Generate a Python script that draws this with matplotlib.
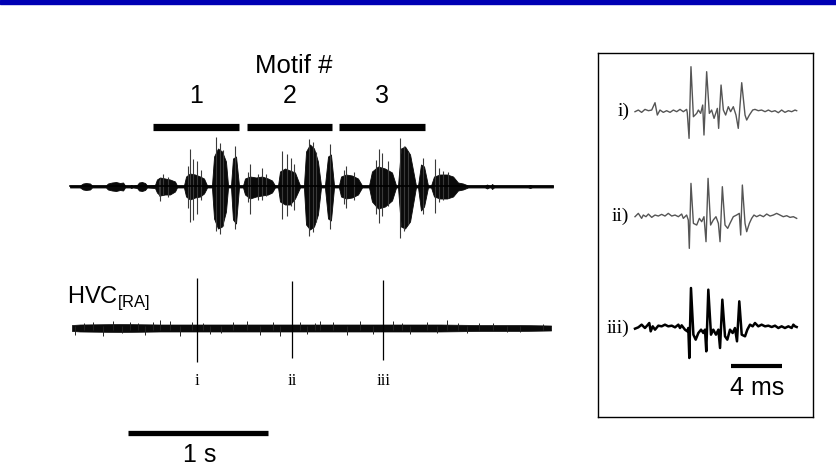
import numpy as np
import matplotlib
matplotlib.use("Agg")
import matplotlib.pyplot as plt
from matplotlib.patches import Rectangle

# ---- song (time in s, amplitude in px above/below the trace line) ----
song_t = [0.000, 0.071, 0.093, 0.114, 0.143, 0.157, 0.257, 0.271, 0.300, 0.329,
          0.357, 0.379, 0.393, 0.429, 0.436, 0.450, 0.479, 0.493, 0.514, 0.536,
          0.550, 0.607, 0.621, 0.643, 0.679, 0.714, 0.750, 0.764, 0.814, 0.829,
          0.857, 0.893, 0.929, 0.957, 0.979, 1.014, 1.029, 1.057, 1.086, 1.114,
          1.129, 1.150, 1.164, 1.186, 1.207, 1.236, 1.250, 1.286, 1.329, 1.371,
          1.414, 1.443, 1.464, 1.486, 1.500, 1.536, 1.571, 1.607, 1.643, 1.671,
          1.686, 1.714, 1.743, 1.771, 1.793, 1.821, 1.843, 1.864, 1.886, 1.921,
          1.936, 1.971, 2.014, 2.057, 2.086, 2.136, 2.157, 2.200, 2.250, 2.300,
          2.329, 2.343, 2.364, 2.393, 2.429, 2.471, 2.486, 2.507, 2.529, 2.557,
          2.579, 2.600, 2.643, 2.693, 2.736, 2.771, 2.807, 2.843, 2.964, 2.979,
          2.993, 3.007, 3.014, 3.029, 3.271, 3.286, 3.300, 3.450]
song_up = [1, 1, 3, 3.5, 3, 1, 1, 3, 4, 4.5,
           3.5, 4, 1, 1, 1.5, 1, 1.5, 4, 4.5, 3.5,
           1, 1.5, 7, 9, 8, 7, 5, 1, 1, 10,
           13, 12, 10, 8, 1, 1, 30, 38, 35, 25,
           1, 1, 28, 30, 1, 1, 8, 10, 9, 10,
           8, 6, 1, 1, 15, 18, 16, 14, 1, 1,
           35, 42, 38, 25, 1, 1, 30, 32, 1, 1,
           10, 12, 11, 8, 1, 1, 15, 20, 18, 14,
           1, 1, 38, 40, 32, 1, 1, 22, 20, 1,
           1, 10, 12, 12, 10, 4, 3, 1, 1, 2,
           1, 1, 2.5, 1, 1, 1.5, 1, 1]
song_dn = [1, 1, 3, 3.5, 3, 1, 1, 3, 4, 4.5,
           3.5, 4, 1, 1, 1.5, 1, 1.5, 4, 4.5, 3.5,
           1, 1.5, 6, 9, 8, 8, 5, 1, 1, 10,
           13, 11, 10, 7, 1, 1, 32, 42, 40, 25,
           1, 1, 33, 37, 1, 1, 8, 12, 10, 9,
           8, 6, 1, 1, 15, 18, 18, 12, 1, 1,
           38, 43, 40, 28, 1, 1, 32, 34, 1, 1,
           10, 12, 11, 8, 1, 1, 15, 22, 20, 14,
           1, 1, 40, 42, 35, 1, 1, 24, 20, 1,
           1, 10, 12, 12, 10, 4, 3, 1, 1, 2,
           1, 1, 2.5, 1, 1, 1.5, 1, 1]

# tall thin excursions in the song
spk_t = [0.636, 0.643, 0.664, 0.700, 0.843, 0.857, 0.879, 0.907, 0.936, 1.043,
         1.071, 1.093, 1.179, 1.271, 1.286, 1.343, 1.371, 1.400, 1.514, 1.550,
         1.579, 1.600, 1.707, 1.736, 1.757, 1.857, 1.957, 1.971, 2.029, 2.186,
         2.207, 2.229, 2.271, 2.357, 2.386, 2.414, 2.521, 2.607, 2.636, 2.664,
         2.700]
spk_up = [6, 8, 12, 9, 20, 37, 27, 25, 16, 49,
          43, 36, 40, 14, 22, 12, 18, 12, 35, 32,
          28, 22, 47, 44, 34, 42, 16, 20, 14, 26,
          37, 33, 25, 48, 40, 34, 28, 27, 18, 15,
          14]
spk_dn = [10, 15, 9, 11, 22, 36, 34, 28, 14, 45,
          48, 40, 43, 16, 28, 14, 14, 10, 33, 30,
          20, 24, 50, 46, 36, 43, 18, 22, 14, 28,
          37, 30, 20, 52, 45, 38, 28, 27, 16, 14,
          12]

motif_labels = ["1", "2", "3"]
motif_start = [0.593, 1.264, 1.921]
motif_end = [1.207, 1.871, 2.536]

# ---- HVC(RA) recording ----
hvc_t = [0.014, 0.071, 0.357, 0.643, 0.929, 1.214, 1.500, 1.786, 2.071, 2.357,
         2.643, 2.929, 3.214, 3.436]
hvc_up = [3, 3.5, 4, 3.5, 3.5, 3.5, 3.5, 3.5, 3.5, 3.5, 3.5, 3, 3, 2.5]
hvc_dn = [3, 3.5, 4, 3.5, 3.5, 3.5, 3.5, 3.5, 3.5, 3.5, 3.5, 3, 3, 2.5]
tick_t = [0.036, 0.100, 0.164, 0.236, 0.307, 0.371, 0.429, 0.486, 0.536, 0.593,
          0.643, 0.714, 0.786, 0.871, 0.950, 1.000, 1.079, 1.164, 1.264, 1.357,
          1.450, 1.500, 1.643, 1.693, 1.750, 1.786, 1.879, 1.979, 2.071, 2.164,
          2.307, 2.371, 2.429, 2.550, 2.621, 2.693, 2.771, 2.836, 2.921, 3.021,
          3.121, 3.214, 3.379]
tick_amp = [-7, 5, 6, -8, 7, -5, 6, 5, -7, 6,
            8, 7, -8, 6, 5, -6, -5, 6, 7, -7,
            6, -8, 6, -6, 5, 7, 6, -7, 7, -6,
            7, 5, -6, 6, -5, 8, 5, -5, 5, 5,
            -4, -4, 4]
unit_labels = ["i", "ii", "iii"]
unit_t = [0.907, 1.586, 2.236]
unit_up = [50, 47, 48]
unit_dn = [34, 30, 32]

# ---- inset spike waveforms (ms, a.u.) ----
wf_i_t = [0.00, 0.26, 0.52, 0.78, 1.05, 1.31, 1.57, 1.75, 1.96, 2.22, 2.48, 2.75,
          3.01, 3.27, 3.53, 3.79, 4.05, 4.10, 4.24, 4.39, 4.58, 4.84, 4.97, 5.15,
          5.31, 5.41, 5.62, 5.83, 6.01, 6.20, 6.46, 6.56, 6.75, 6.93, 7.11, 7.32,
          7.50, 7.71, 7.92, 8.10, 8.37, 8.63, 8.76, 8.97, 9.23, 9.41, 9.67, 9.93,
          10.20, 10.46, 10.72, 10.98, 11.24, 11.50, 11.76, 12.03, 12.29, 12.55, 12.68]
wf_i = [0, 5, -2, 7, 3, 5, 27, -10, 5, -2, 3, -2,
        5, 0, 7, 0, 7, -3, -80, 135, -15, -5, 5, -5,
        20, -70, 120, -5, 5, -20, 10, -50, 80, 5, -10, 15,
        0, 15, -10, -50, 87, -10, -25, -10, 5, 7, 3, 5,
        0, 5, 0, 3, -3, 5, -2, 3, 0, 5, 3]
wf_ii_t = [0.00, 0.26, 0.52, 0.65, 0.86, 1.05, 1.31, 1.57, 1.83, 2.09, 2.35, 2.61,
           2.88, 3.14, 3.40, 3.66, 3.79, 4.05, 4.18, 4.26, 4.39, 4.58, 4.84, 5.05,
           5.23, 5.41, 5.57, 5.73, 5.93, 6.14, 6.35, 6.54, 6.67, 6.85, 7.06, 7.27,
           7.45, 7.71, 7.97, 8.18, 8.29, 8.42, 8.63, 8.76, 8.97, 9.15, 9.33, 9.54,
           9.80, 10.07, 10.33, 10.59, 10.85, 11.11, 11.37, 11.63, 11.90, 12.16, 12.42, 12.68]
wf_ii = [0, 10, -5, 5, 0, 8, -2, 5, 2, 7, 2, 10,
         2, 5, 0, 8, -5, 5, -10, -95, 100, -20, -25, -5,
         -15, 0, -75, 115, -25, -10, 0, -20, -75, 90, -25, -35,
         -20, 0, 5, 10, -55, 95, -20, -45, -20, -5, 5, 0,
         5, 0, 8, 2, 5, 10, 5, 0, 3, -2, 0, -5]
wf_iii_t = [0.00, 0.26, 0.52, 0.78, 0.97, 1.12, 1.23, 1.39, 1.57, 1.83, 2.09, 2.35,
            2.61, 2.88, 3.14, 3.40, 3.53, 3.66, 3.92, 4.10, 4.18, 4.26, 4.39, 4.58,
            4.76, 4.97, 5.18, 5.36, 5.49, 5.59, 5.75, 5.96, 6.14, 6.35, 6.54, 6.67,
            6.85, 7.06, 7.24, 7.45, 7.66, 7.84, 8.00, 8.18, 8.37, 8.63, 8.81, 9.02,
            9.23, 9.41, 9.67, 9.93, 10.20, 10.46, 10.72, 10.98, 11.24, 11.50, 11.76,
            12.03, 12.29, 12.42, 12.55, 12.68]
wf_iii = [-2, 2, 10, 0, 8, 15, -10, 5, -5, 7, 5, 10,
          5, 7, 2, 10, 0, 8, -5, -10, 0, -90, 120, -20,
          -35, -15, -5, -15, -5, -70, 115, -20, -5, -20, -5, -60,
          85, -25, -35, -5, -15, 0, -40, 80, -20, -25, -5, 10,
          5, 15, 5, 10, 5, 7, 3, 7, 0, 5, 0,
          5, 0, 10, 5, 3]
wf_labels = ["i)", "ii)", "iii)"]

# layout (figure pixels)
W, H = 836, 469
SONG_Y, HVC_Y = 186.5, 328
PX_PER_S = 140
WF_BASE = [111.7, 216.7, 328]
WF_GAIN = 1 / 3
PX_PER_MS = 12.75

fig = plt.figure(figsize=(W / 100, H / 100), dpi=100)
fig.patches.append(Rectangle((0, 1 - 4 / H), 1, 4 / H, transform=fig.transFigure,
                             color="#0000b4", zorder=5))

ax = fig.add_axes([0, 0, 590 / W, 1])
ax.set_xlim(-70 / PX_PER_S, 520 / PX_PER_S)
ax.set_ylim(H, 0)
ax.axis("off")

sans = "Liberation Sans"
serif = "Liberation Serif"

# song
st = np.array(song_t)
ax.fill_between(st, SONG_Y - np.array(song_up), SONG_Y + np.array(song_dn),
                color="#0a0a0a", lw=0.6)
ax.vlines(spk_t, SONG_Y - np.array(spk_up), SONG_Y + np.array(spk_dn),
          color="#3a3a3a", lw=0.8)
ax.plot([song_t[0], song_t[-1]], [SONG_Y, SONG_Y], color="black", lw=1.2)

# motif bars
ax.hlines([127] * 3, motif_start, motif_end, color="black", lw=5.2)
for lab, a, b in zip(motif_labels, motif_start, motif_end):
    ax.text((a + b) / 2, 96, lab, fontsize=18, family=sans, ha="center", va="center")
ax.text(1.60, 66, "Motif #", fontsize=18.5, family=sans, ha="center", va="center")

# HVC trace
ax.fill_between(hvc_t, HVC_Y - np.array(hvc_up), HVC_Y + np.array(hvc_dn),
                color="#0a0a0a", lw=0.5)
ta = np.array(tick_amp)
ax.vlines(tick_t, HVC_Y - np.maximum(ta, 2), HVC_Y + np.maximum(-ta, 2),
          color="#222222", lw=0.7)
ax.vlines(unit_t, HVC_Y - np.array(unit_up), HVC_Y + np.array(unit_dn),
          color="black", lw=0.9)
for lab, t in zip(unit_labels, unit_t):
    ax.text(t, 381, lab, fontsize=12, family=serif, ha="center", va="center")
ax.text(-0.021, 298, r"HVC$_{\mathregular{[RA]}}$", fontsize=17, family=sans,
        ha="left", va="center")

# 1 s scale bar
ax.hlines(433, 0.414, 1.414, color="black", lw=3.8)
ax.text(0.929, 455, "1 s", fontsize=18, family=sans, ha="center", va="center")

# inset with spike waveforms
ins = fig.add_axes([598 / W, (H - 417) / H, 215 / W, 364 / H])
ins.set_xlim(-37 / PX_PER_MS, 178 / PX_PER_MS)
ins.set_ylim(417, 53)
ins.set_xticks([])
ins.set_yticks([])
for s in ins.spines.values():
    s.set_linewidth(1.0)
styles = [("#555555", 1.0), ("#555555", 1.0), ("black", 1.8)]
waves = [(wf_i_t, wf_i), (wf_ii_t, wf_ii), (wf_iii_t, wf_iii)]
for (t, v), base, (c, lw), lab in zip(waves, WF_BASE, styles, wf_labels):
    ins.plot(t, base - np.array(v) * WF_GAIN, color=c, lw=lw)
    ins.text(-0.45, base, lab, fontsize=14, family=serif, ha="right", va="center")
ins.hlines(366, 7.53, 11.53, color="black", lw=3)
ins.text(9.6, 388, "4 ms", fontsize=18, family=sans, ha="center", va="center")

fig.savefig("out.png", dpi=100)
